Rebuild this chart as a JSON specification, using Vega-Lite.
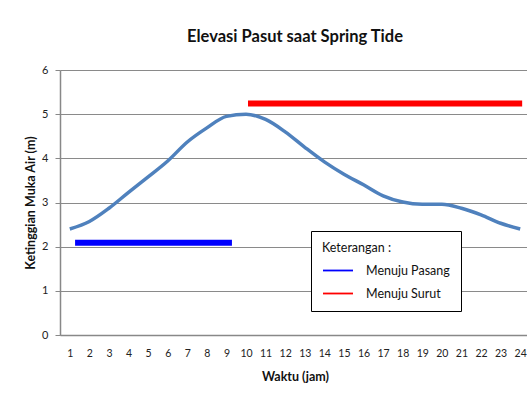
{
  "$schema": "https://vega.github.io/schema/vega-lite/v6.json",
  "width": 470,
  "height": 265,
  "autosize": {"type": "none"},
  "padding": {"left": 60, "top": 70, "right": 0, "bottom": 69},
  "background": "white",
  "config": {
    "font": "Lato",
    "view": {"stroke": null},
    "axis": {"labelFont": "Lato", "titleFont": "Lato", "labelFontSize": 11, "labelColor": "#222", "titleColor": "#111"},
    "axisX": {"labelOverlap": false, "labelBound": false},
    "legend": {"labelFont": "Lato", "titleFont": "Lato"}
  },
  "title": {"text": "Elevasi Pasut saat Spring Tide", "fontSize": 16.5, "fontWeight": "bold", "font": "Lato", "anchor": "middle", "offset": 19, "color": "#111"},
  "datasets": {
    "tide": [
      {"jam": 1, "elevasi": 2.4}, {"jam": 2, "elevasi": 2.57}, {"jam": 3, "elevasi": 2.87},
      {"jam": 4, "elevasi": 3.23}, {"jam": 5, "elevasi": 3.58}, {"jam": 6, "elevasi": 3.94},
      {"jam": 7, "elevasi": 4.37}, {"jam": 8, "elevasi": 4.69}, {"jam": 9, "elevasi": 4.95},
      {"jam": 10, "elevasi": 5.0}, {"jam": 11, "elevasi": 4.88}, {"jam": 12, "elevasi": 4.6},
      {"jam": 13, "elevasi": 4.25}, {"jam": 14, "elevasi": 3.92}, {"jam": 15, "elevasi": 3.64},
      {"jam": 16, "elevasi": 3.4}, {"jam": 17, "elevasi": 3.15}, {"jam": 18, "elevasi": 3.01},
      {"jam": 19, "elevasi": 2.96}, {"jam": 20, "elevasi": 2.96}, {"jam": 21, "elevasi": 2.87},
      {"jam": 22, "elevasi": 2.72}, {"jam": 23, "elevasi": 2.53}, {"jam": 24, "elevasi": 2.4}
    ],
    "segmen": [
      {"keterangan": "Menuju Pasang", "mulai": 1.27, "akhir": 9.28, "tinggi": 2.09},
      {"keterangan": "Menuju Surut", "mulai": 10.1, "akhir": 24.1, "tinggi": 5.24}
    ]
  },
  "layer": [
    {
      "data": {"name": "tide"},
      "mark": {"type": "line", "color": "#4F81BD", "strokeWidth": 3.5, "interpolate": "monotone"},
      "encoding": {
        "x": {"field": "jam", "type": "quantitative", "scale": {"domain": [0.5, 24.5], "nice": false, "zero": false},
          "axis": {"title": "Waktu (jam)", "values": [1,2,3,4,5,6,7,8,9,10,11,12,13,14,15,16,17,18,19,20,21,22,23,24], "labelOverlap": false, "labelBound": false, "grid": false, "ticks": false, "domainColor": "#888", "domainWidth": 1.5, "labelPadding": 13, "titleFontSize": 12.5, "titleFontWeight": "bold", "titlePadding": 12, "labelFontSize": 10.5}},
        "y": {"field": "elevasi", "type": "quantitative", "scale": {"domain": [0, 6], "nice": false},
          "axis": {"title": "Ketinggian Muka Air (m)", "values": [0,1,2,3,4,5,6], "grid": true, "gridColor": "#8a8a8a", "gridWidth": 1, "domainColor": "#888", "domainWidth": 1.5, "tickColor": "#888", "tickSize": 5, "labelPadding": 7, "titleFontSize": 12.5, "titleFontWeight": "bold", "titlePadding": 4, "labelFontSize": 11}}
      }
    },
    {
      "data": {"name": "segmen"},
      "mark": {"type": "rule", "strokeWidth": 6},
      "encoding": {
        "x": {"field": "mulai", "type": "quantitative", "axis": {"title": "Waktu (jam)", "values": [1,2,3,4,5,6,7,8,9,10,11,12,13,14,15,16,17,18,19,20,21,22,23,24], "labelOverlap": false, "labelBound": false, "grid": false, "ticks": false, "domainColor": "#888", "domainWidth": 1.5, "labelPadding": 13, "titleFontSize": 12.5, "titleFontWeight": "bold", "titlePadding": 12, "labelFontSize": 10.5}},
        "x2": {"field": "akhir"},
        "y": {"field": "tinggi", "type": "quantitative"},
        "color": {"field": "keterangan", "type": "nominal",
          "scale": {"domain": ["Menuju Pasang", "Menuju Surut"], "range": ["#0000FF", "#FF0000"]},
          "legend": {"title": "Keterangan :", "orient": "none", "legendX": 251, "legendY": 161, "strokeColor": "#000", "fillColor": "white", "padding": 11, "symbolType": "stroke", "symbolSize": 900, "symbolStrokeWidth": 1.8, "labelFontSize": 12.5, "titleFontSize": 12.5, "titleFontWeight": "normal", "labelColor": "#111", "titleColor": "#111", "rowPadding": -8, "labelOffset": 12, "titlePadding": 0}}
      }
    }
  ]
}
